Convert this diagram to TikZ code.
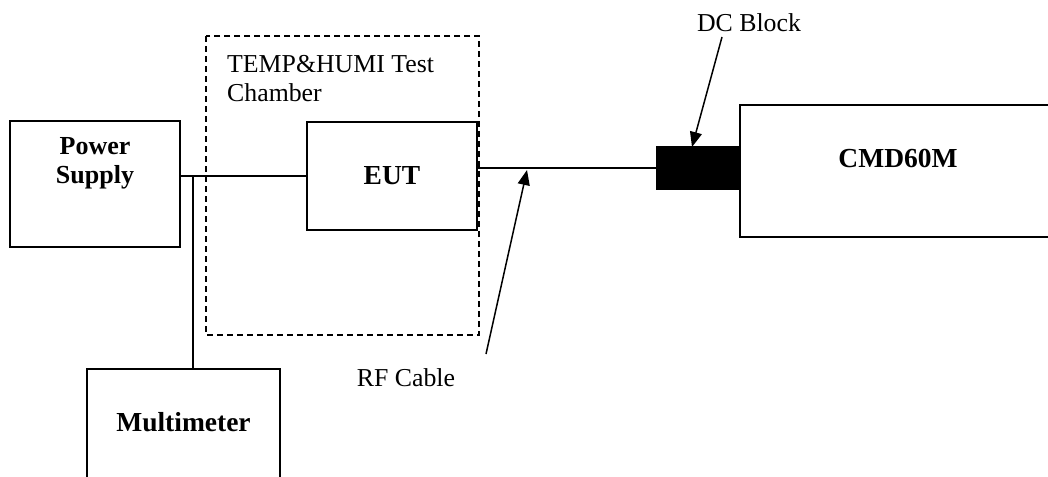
\documentclass[tikz,border=0pt]{standalone}
\usepackage{fontspec}
\setmainfont{Liberation Serif}
\usetikzlibrary{arrows.meta}
\begin{document}
\begin{tikzpicture}[x=1pt,y=-1pt,
  box/.style={draw=black,line width=2.4pt,rectangle,inner sep=0pt},
  bold/.style={font=\fontsize{27.5}{30}\selectfont\bfseries},
  plain/.style={font=\fontsize{25.8}{29}\selectfont},
  wire/.style={line width=2.4pt},
  pointer/.style={line width=1.5pt,-{Triangle[length=15pt,width=12pt]}},
  chamberline/.style={line width=1.8pt,dash pattern=on 6pt off 4pt}]
\clip (0,0) rectangle (1048,476);
% boxes
\node[box,minimum width=170pt,minimum height=126pt] (ps) at (95,184) {};
\node[font=\fontsize{26}{29}\selectfont\bfseries,align=center,anchor=north,inner sep=0pt] (pst) at (95,137) {Power\\Supply};
\draw[chamberline] (206,36) rectangle (479,335);
\node[plain,align=left,anchor=north west,inner sep=0pt] (cht) at (227,55) {TEMP\&HUMI Test\\Chamber};
\node[box,minimum width=170pt,minimum height=108pt,bold] (eut) at (392,176) {EUT};
\node[box,fill=black,minimum width=82pt,minimum height=41pt] (dc) at (698,168) {};
\node[box,minimum width=330pt,minimum height=132pt,anchor=west] (cmd) at (739,171) {};
\node[bold] (cmdt) at (898,158) {CMD60M};
\node[box,minimum width=193pt,minimum height=114pt,anchor=north] (mm) at (183.5,368) {};
\node[bold] (mmt) at (183.5,422) {Multimeter};
% wires
\draw[wire] (eut.west) -- (eut.west -| ps.east);
\coordinate (jn) at (193,176);
\draw[wire] (jn) -- (jn |- mm.north);
\draw[wire] (dc.west) -- (dc.west -| eut.east);
% labels and pointers
\node[plain] (dcl) at (749,23) {DC Block};
\coordinate (dcs) at (722,37);
\coordinate (dct) at (692,147);
\draw[pointer] (dcs) -- (dct);
\node[plain] (rfl) at (406,378) {RF Cable};
\coordinate (rfs) at (486,354);
\coordinate (rft) at (527,170);
\draw[pointer] (rfs) -- (rft);
\end{tikzpicture}
\end{document}
